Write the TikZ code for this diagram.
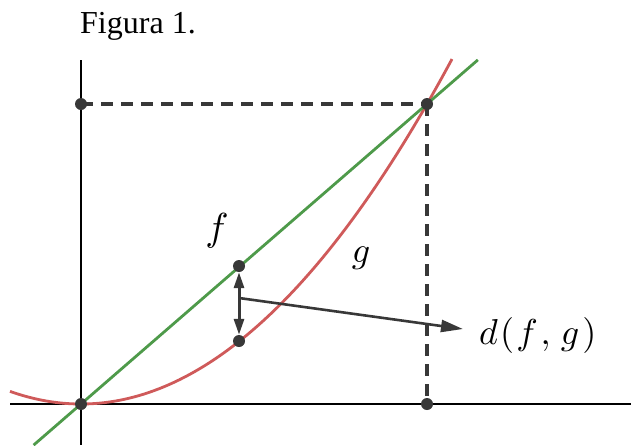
\documentclass[tikz,border=0pt]{standalone}
\usepackage{fontspec}
\setmainfont{Liberation Serif}
\usepackage{amsmath}
\usepackage{graphicx}
\usepackage{tikz}
\usetikzlibrary{positioning, arrows.meta, calc}
\definecolor{linegreen}{HTML}{4E9A4A}
\definecolor{curvered}{HTML}{CF5A5A}
\definecolor{dotgray}{HTML}{383838}
\newcommand{\biglbl}[1]{\scalebox{3.6}{$#1$}}

\begin{document}
\begin{tikzpicture}[
  x=1pt, y=-1pt,
  pt/.style={circle, fill=dotgray, inner sep=0pt, minimum size=12pt},
  axis/.style={line width=1.8pt, color=black},
  guide/.style={dash pattern=on 12pt off 8pt, line width=3.2pt, color=dotgray},
  fline/.style={line width=2.8pt, color=linegreen},
  gcurve/.style={line width=2.8pt, color=curvered},
  gap/.style={{Triangle[length=16pt, width=10pt]}-{Triangle[length=16pt, width=10pt]},
              line width=3pt, color=dotgray},
  pointer/.style={-{Triangle[length=22pt, width=12pt]}, line width=2.6pt, color=dotgray},
  lbl/.style={inner sep=0pt}
]
\useasboundingbox (0,0) rectangle (631,445);
% caption
\node[anchor=base west, font=\fontsize{32}{36}\selectfont, inner sep=0pt]
  (title) at (80,33) {Figura 1.};
% axes
\draw[axis] (10,404) -- (631,404);
\draw[axis] (81,60) -- (81,445);
% marked points
\coordinate (O) at (81,404);
\coordinate (P) at (427,104);
\coordinate (Py) at (81,104);
\coordinate (Px) at (427,404);
% guides to the axes
\draw[guide] (Py) -- (P);
\draw[guide] (P) -- (Px);
% g and f
\draw[gcurve, domain=10:452, samples=90]
  plot (\x, {404-25.06*((\x-81)/100)^2});
\draw[fline] ($(O)!-0.137!(P)$) -- ($(O)!1.147!(P)$);
% the dots
\node[pt] (o) at (O) {};
\node[pt] (p) at (P) {};
\node[pt] (py) at (Py) {};
\node[pt] (px) at (Px) {};
\node[pt] (pf) at (239,266) {};
\node[pt] (pg) at (239,341) {};
% distance between f and g
\draw[gap] (pf) -- (pg);
\coordinate (mid) at (239,298);
\coordinate (tip) at (463,329);
\draw[pointer] (mid) -- (tip);
% labels
\node[lbl, anchor=base] (flab) at (217,240) {\scalebox{3.9}{$f$}};
\node[lbl, anchor=base] (glab) at (361,262) {\biglbl{g}};
\node[lbl, anchor=base west] (dlab) at (479,344)
  {\biglbl{d\hspace{0.6pt}(\hspace{0.6pt}f\hspace{0.8pt},\hspace{1.2pt}g\hspace{0.8pt})}};
\end{tikzpicture}
\end{document}
